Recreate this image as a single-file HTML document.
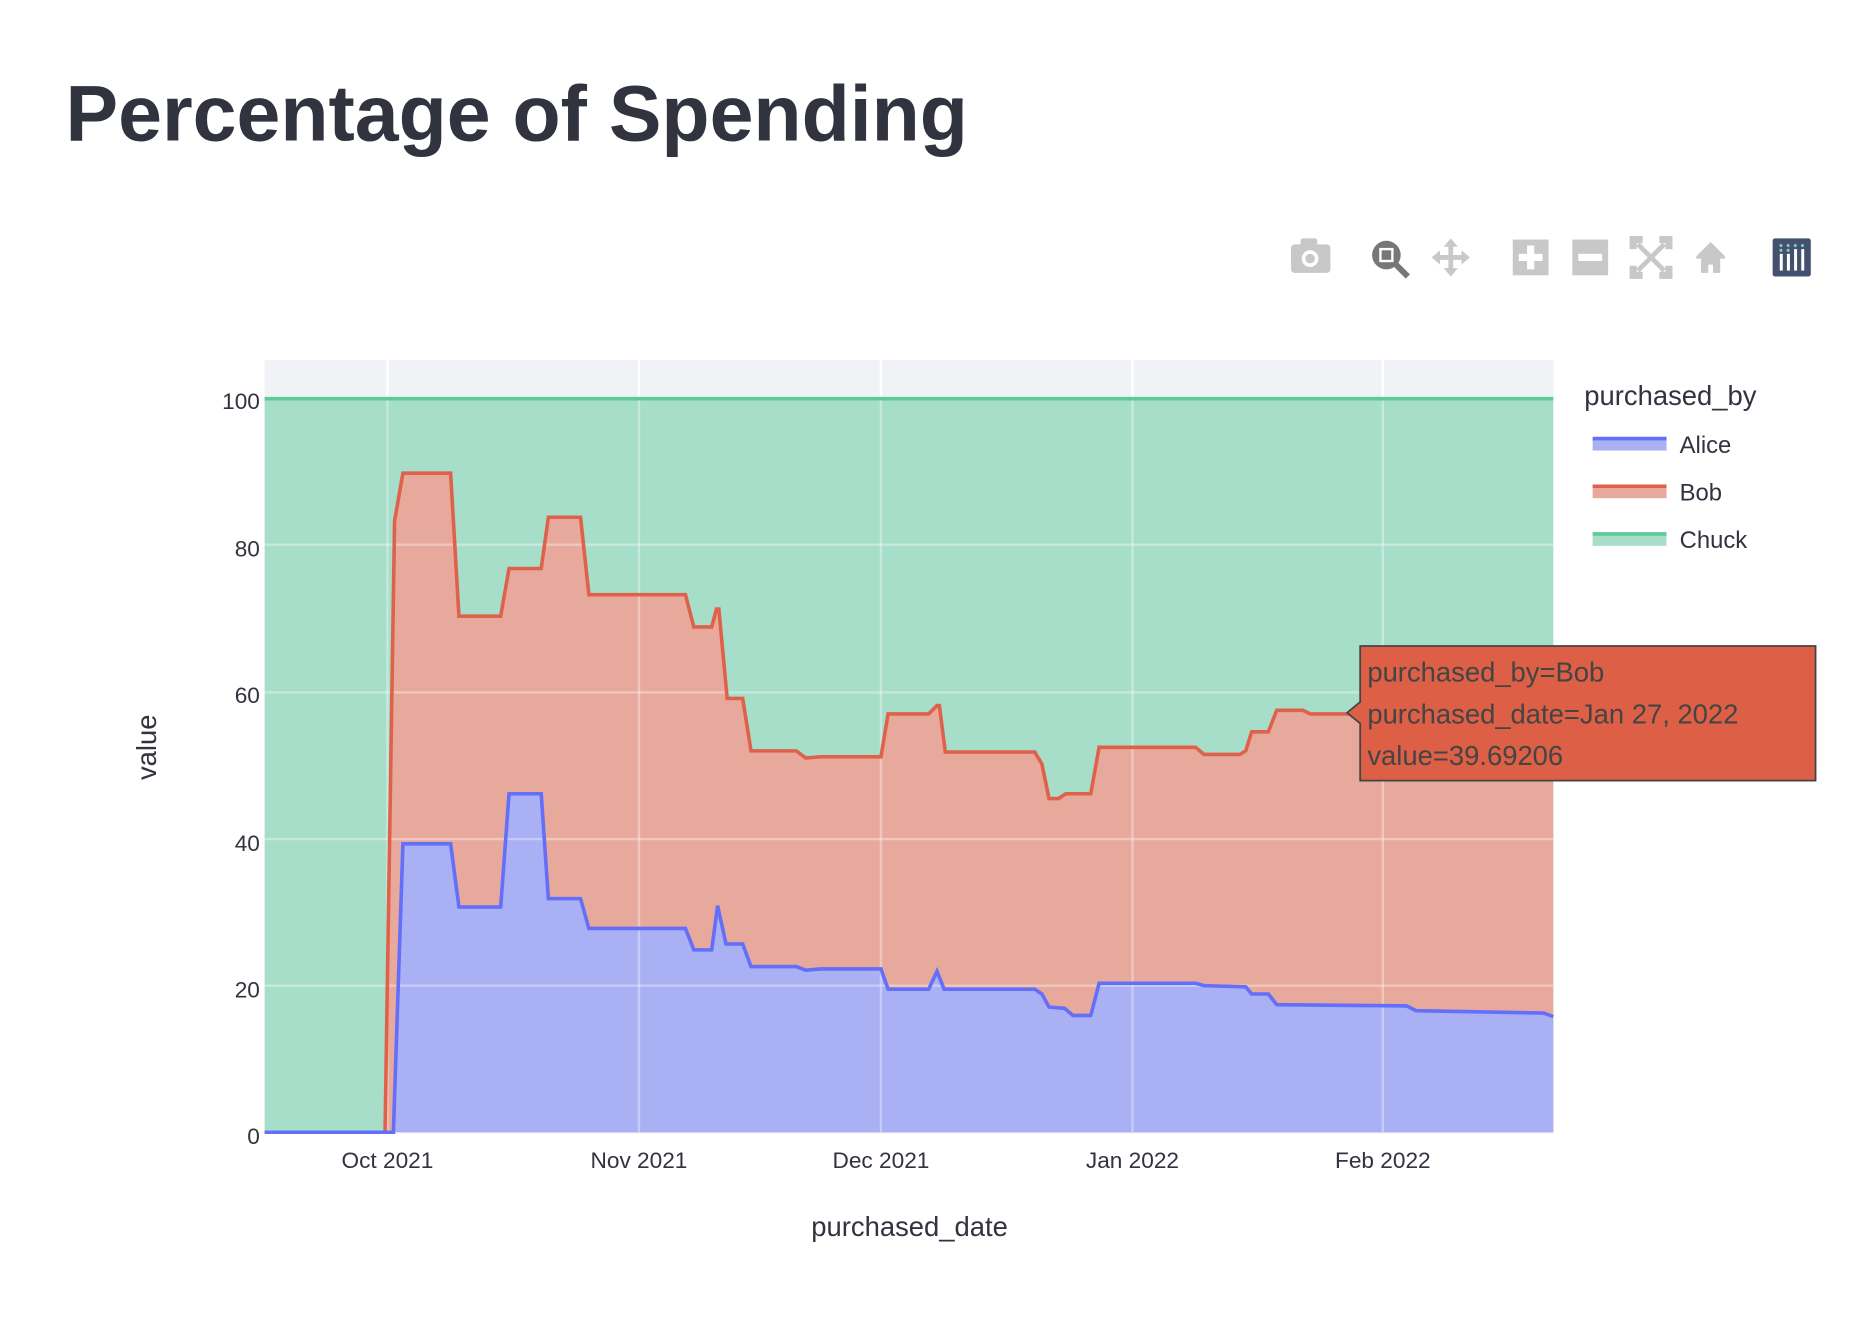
<!DOCTYPE html>
<html><head><meta charset="utf-8"><style>
html,body{margin:0;padding:0;background:#fff;}
svg{display:block;}
text{font-family:"Liberation Sans",sans-serif;}
</style></head><body>
<svg width="1868" height="1342" viewBox="0 0 1567 1126" preserveAspectRatio="none" xmlns="http://www.w3.org/2000/svg">
<text x="55" y="118" font-size="66" font-weight="bold" fill="#31333f" textLength="757" lengthAdjust="spacingAndGlyphs">Percentage of Spending</text>
<g fill="#c8c8c8">
<rect x="1083" y="205" width="33" height="24" rx="3"/><rect x="1091" y="200" width="14" height="7" rx="2"/>
<circle cx="1099" cy="217" r="7" fill="#fff"/><circle cx="1099" cy="217" r="4"/>
<path d="M1217 200 l6 7 h-4 v7 h7 v-4 l7 6 -7 6 v-4 h-7 v7 h4 l-6 7 -6 -7 h4 v-7 h-7 v4 l-7 -6 7 -6 v4 h7 v-7 h-4z"/>
<rect x="1269" y="201" width="30" height="30"/><rect x="1319" y="201" width="30" height="30"/>
<path d="M1423 215 l12 -12 12 12 v2 h-4 v12 h-6 v-7 h-4 v7 h-6 v-12 h-4z"/>
<path d="M1369 200 h7 v2 h-5 v5 h-2z M1401 200 h-7 v2 h5 v5 h2z M1369 232 h7 v-2 h-5 v-5 h-2z M1401 232 h-7 v-2 h5 v-5 h2z M1374 205 l22 22 M1396 205 l-22 22" stroke="#c8c8c8" stroke-width="4"/>
</g>
<g fill="#fff"><rect x="1281" y="206" width="6" height="20"/><rect x="1274" y="213" width="20" height="6"/><rect x="1324" y="213" width="20" height="6"/></g>
<circle cx="1163" cy="214" r="12" fill="#777"/><rect x="1157" y="208" width="12" height="12" fill="#fff"/><rect x="1159" y="210" width="8" height="8" fill="#777"/>
<path d="M1170 221 l11 11" stroke="#777" stroke-width="5"/>
<rect x="1487" y="200" width="32" height="32" rx="2" fill="#435070"/>
<g fill="#fff"><rect x="1493" y="213" width="2.5" height="14"/><rect x="1499" y="213" width="2.5" height="14"/><rect x="1505" y="209" width="2.5" height="18"/><rect x="1511" y="209" width="2.5" height="18"/></g>
<g fill="#7fd0b0"><circle cx="1494" cy="206" r="1.3"/><circle cx="1500" cy="206" r="1.3"/><circle cx="1506" cy="206" r="1.3"/><circle cx="1512" cy="206" r="1.3"/><circle cx="1494" cy="210" r="1.3"/><circle cx="1500" cy="210" r="1.3"/></g>
<rect x="222" y="302" width="1081" height="649" fill="#f0f2f6"/>
<rect x="222" y="334" width="1081" height="616" fill="#a6dec9"/>
<path d="M222,950 L323,950 L331,437 L338,397 L378,397 L385,517 L420,517 L427,477 L454,477 L460,434 L487,434 L494,499 L575,499 L582,526 L597,526 L601,511 L603,511 L610,586 L623,586 L630,630 L668,630 L676,636 L688,635 L739,635 L745,599 L779,599 L786,592 L788,592 L793,631 L868,631 L874,641 L880,670 L888,670 L894,666 L915,666 L922,627 L1003,627 L1010,633 L1040,633 L1045,630 L1050,614 L1064,614 L1071,596 L1093,596 L1099,599 L1303,599 L1303,950 Z" fill="#e7a99c"/>
<path d="M222,950 L330,950 L338,708 L378,708 L385,761 L420,761 L427,666 L454,666 L460,754 L487,754 L494,779 L575,779 L582,797 L597,797 L602,760 L609,792 L623,792 L630,811 L668,811 L676,814 L688,813 L739,813 L745,830 L779,830 L786,815 L792,830 L868,830 L874,834 L880,845 L893,846 L900,852 L915,852 L922,825 L1003,825 L1010,827 L1045,828 L1050,834 L1064,834 L1071,843 L1180,844 L1188,848 L1295,850 L1303,853 L1303,950 Z" fill="#a9b0f4"/>
<g stroke="#ffffff" stroke-opacity="0.35" stroke-width="2">
<line x1="325" y1="302" x2="325" y2="950"/><line x1="536" y1="302" x2="536" y2="950"/><line x1="739" y1="302" x2="739" y2="950"/><line x1="950" y1="302" x2="950" y2="950"/><line x1="1160" y1="302" x2="1160" y2="950"/>
<line x1="222" y1="827" x2="1303" y2="827"/><line x1="222" y1="704" x2="1303" y2="704"/><line x1="222" y1="581" x2="1303" y2="581"/><line x1="222" y1="457" x2="1303" y2="457"/>
</g>
<g stroke="#fff" stroke-width="2"><line x1="325" y1="302" x2="325" y2="334"/><line x1="536" y1="302" x2="536" y2="334"/><line x1="739" y1="302" x2="739" y2="334"/><line x1="950" y1="302" x2="950" y2="334"/><line x1="1160" y1="302" x2="1160" y2="334"/></g>
<line x1="222" y1="334.5" x2="1303" y2="334.5" stroke="#5ccb95" stroke-width="3"/>
<path d="M222,950 L323,950 L331,437 L338,397 L378,397 L385,517 L420,517 L427,477 L454,477 L460,434 L487,434 L494,499 L575,499 L582,526 L597,526 L601,511 L603,511 L610,586 L623,586 L630,630 L668,630 L676,636 L688,635 L739,635 L745,599 L779,599 L786,592 L788,592 L793,631 L868,631 L874,641 L880,670 L888,670 L894,666 L915,666 L922,627 L1003,627 L1010,633 L1040,633 L1045,630 L1050,614 L1064,614 L1071,596 L1093,596 L1099,599 L1303,599" fill="none" stroke="#e0614a" stroke-width="3"/>
<path d="M222,950 L330,950 L338,708 L378,708 L385,761 L420,761 L427,666 L454,666 L460,754 L487,754 L494,779 L575,779 L582,797 L597,797 L602,760 L609,792 L623,792 L630,811 L668,811 L676,814 L688,813 L739,813 L745,830 L779,830 L786,815 L792,830 L868,830 L874,834 L880,845 L893,846 L900,852 L915,852 L922,825 L1003,825 L1010,827 L1045,828 L1050,834 L1064,834 L1071,843 L1180,844 L1188,848 L1295,850 L1303,853" fill="none" stroke="#636efa" stroke-width="3"/>
<g font-size="19" fill="#31333f" text-anchor="end">
<text x="218" y="343">100</text><text x="218" y="467">80</text><text x="218" y="590">60</text><text x="218" y="714">40</text><text x="218" y="837">20</text><text x="218" y="960">0</text>
</g>
<g font-size="19" fill="#31333f" text-anchor="middle">
<text x="325" y="980">Oct 2021</text><text x="536" y="980">Nov 2021</text><text x="739" y="980">Dec 2021</text><text x="950" y="980">Jan 2022</text><text x="1160" y="980">Feb 2022</text>
</g>
<text x="763" y="1037" font-size="23" fill="#31333f" text-anchor="middle">purchased_date</text>
<text transform="translate(131,627) rotate(-90)" font-size="23" fill="#31333f" text-anchor="middle">value</text>
<text x="1329" y="340" font-size="23" fill="#31333f">purchased_by</text>
<rect x="1336" y="368" width="62" height="10" fill="#a9b0f4"/><line x1="1336" y1="368" x2="1398" y2="368" stroke="#636efa" stroke-width="3"/>
<text x="1409" y="380" font-size="20" fill="#31333f">Alice</text>
<rect x="1336" y="408" width="62" height="10" fill="#e7a99c"/><line x1="1336" y1="408" x2="1398" y2="408" stroke="#e0614a" stroke-width="3"/>
<text x="1409" y="420" font-size="20" fill="#31333f">Bob</text>
<rect x="1336" y="448" width="62" height="10" fill="#a6dec9"/><line x1="1336" y1="448" x2="1398" y2="448" stroke="#5ccb95" stroke-width="3"/>
<text x="1409" y="460" font-size="20" fill="#31333f">Chuck</text>
<path d="M1141,542 H1523 V655 H1141 V607 L1130,598 L1141,589 Z" fill="#dd5f46" stroke="#444" stroke-width="1.5"/>
<g font-size="23" fill="#444">
<text x="1147" y="572">purchased_by=Bob</text>
<text x="1147" y="607">purchased_date=Jan 27, 2022</text>
<text x="1147" y="642">value=39.69206</text>
</g>
</svg>
</body></html>
